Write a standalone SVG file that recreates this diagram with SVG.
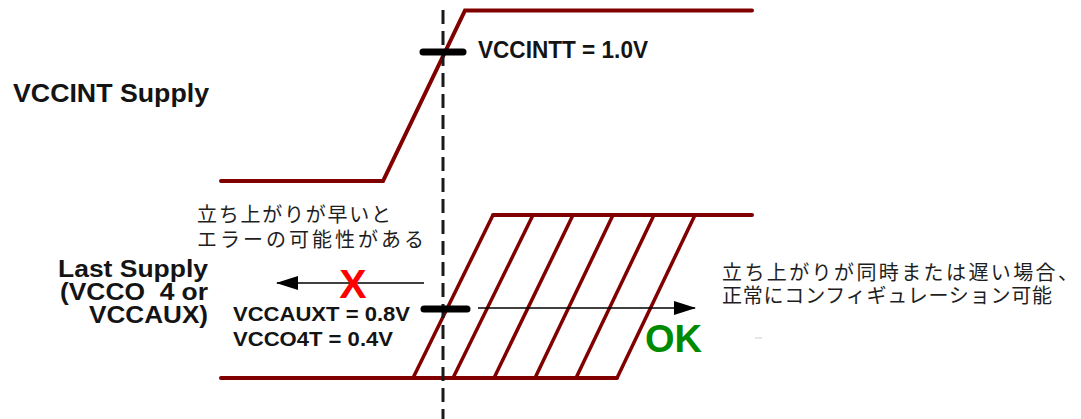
<svg xmlns="http://www.w3.org/2000/svg" width="1081" height="419" viewBox="0 0 1081 419">
<defs>
<style>
.wave{fill:none;stroke:#800000;stroke-width:4;stroke-linecap:round;stroke-linejoin:miter}
.hatch{fill:none;stroke:#800000;stroke-width:3.5}
.lbl{font-family:"Liberation Sans",Arial,sans-serif;font-weight:bold;fill:#141414}
.jp{font-family:"Noto Sans CJK JP",sans-serif;font-size:20px;fill:#1e1e1e}
.bar{stroke:#000;stroke-width:7;stroke-linecap:round}
.arr{stroke:#000;stroke-width:1.6;fill:none}
</style>
<marker id="ah" viewBox="0 0 22 14" refX="21" refY="7" markerWidth="22" markerHeight="14" markerUnits="userSpaceOnUse" orient="auto">
<path d="M0,0 L22,7 L0,14 Z" fill="#000"/>
</marker>
</defs>
<rect width="1081" height="419" fill="#fff"/>

<g id="vccint-supply">
<path class="wave" d="M221,181 L383,181 L465,10.5 L752,10.5"/>
<text class="lbl" x="13" y="102" font-size="26" textLength="196" lengthAdjust="spacingAndGlyphs">VCCINT Supply</text>
</g>

<g id="last-supply">
<path class="wave" d="M221,378 L617,378"/>
<path class="wave" d="M493,215 L752,215"/>
<g class="hatch">
<line x1="413" y1="378" x2="493" y2="215"/>
<line x1="453" y1="378" x2="533" y2="215"/>
<line x1="494" y1="378" x2="573" y2="215"/>
<line x1="535" y1="378" x2="613" y2="215"/>
<line x1="576" y1="378" x2="654" y2="215"/>
<line x1="617" y1="378" x2="695" y2="215"/>
</g>
<g class="lbl" font-size="23" text-anchor="end">
<text x="208" y="277" textLength="150" lengthAdjust="spacingAndGlyphs">Last Supply</text>
<text x="208" y="300" textLength="148" lengthAdjust="spacingAndGlyphs">(VCCO&#160; 4 or</text>
<text x="208" y="323" textLength="119" lengthAdjust="spacingAndGlyphs">VCCAUX)</text>
</g>
</g>

<g id="time-marker">
<line x1="443" y1="10" x2="443" y2="419" stroke="#1a1a1a" stroke-width="3" stroke-dasharray="14 7"/>
</g>

<g id="vccintt-threshold">
<line class="bar" x1="423" y1="52" x2="463" y2="52"/>
<text class="lbl" x="478" y="58" font-size="23" textLength="170" lengthAdjust="spacingAndGlyphs">VCCINTT = 1.0V</text>
</g>

<g id="vccauxt-threshold">
<line class="bar" x1="424" y1="309" x2="467" y2="309"/>
<text class="lbl" x="233" y="321" font-size="21" textLength="177" lengthAdjust="spacingAndGlyphs">VCCAUXT = 0.8V</text>
<text class="lbl" x="233" y="346" font-size="21" textLength="160" lengthAdjust="spacingAndGlyphs">VCCO4T = 0.4V</text>
</g>

<g id="connectors">
<line class="arr" x1="424" y1="283" x2="277" y2="283" marker-end="url(#ah)"/>
<line class="arr" x1="478" y1="308" x2="695" y2="308" marker-end="url(#ah)"/>
</g>

<g id="early-note">
<text class="jp" x="197" y="221.5" textLength="194" lengthAdjust="spacing">立ち上がりが早いと</text>
<text class="jp" x="197" y="246.5" textLength="227" lengthAdjust="spacing">エラーの可能性がある</text>
<text x="353" y="298" font-family="Liberation Sans,Arial,sans-serif" font-weight="bold" font-size="41" fill="#ff0000" text-anchor="middle">X</text>
</g>

<g id="ok-note">
<text class="jp" x="722" y="280" textLength="356" lengthAdjust="spacing">立ち上がりが同時または遅い場合、</text>
<text class="jp" x="722" y="303" textLength="330" lengthAdjust="spacing">正常にコンフィギュレーション可能</text>
<text x="645" y="352" font-family="Liberation Sans,Arial,sans-serif" font-weight="bold" font-size="38" fill="#008a00" textLength="57" lengthAdjust="spacingAndGlyphs">OK</text>
<line x1="755" y1="338" x2="762" y2="338" stroke="#cccccc" stroke-width="1"/>
</g>
</svg>
